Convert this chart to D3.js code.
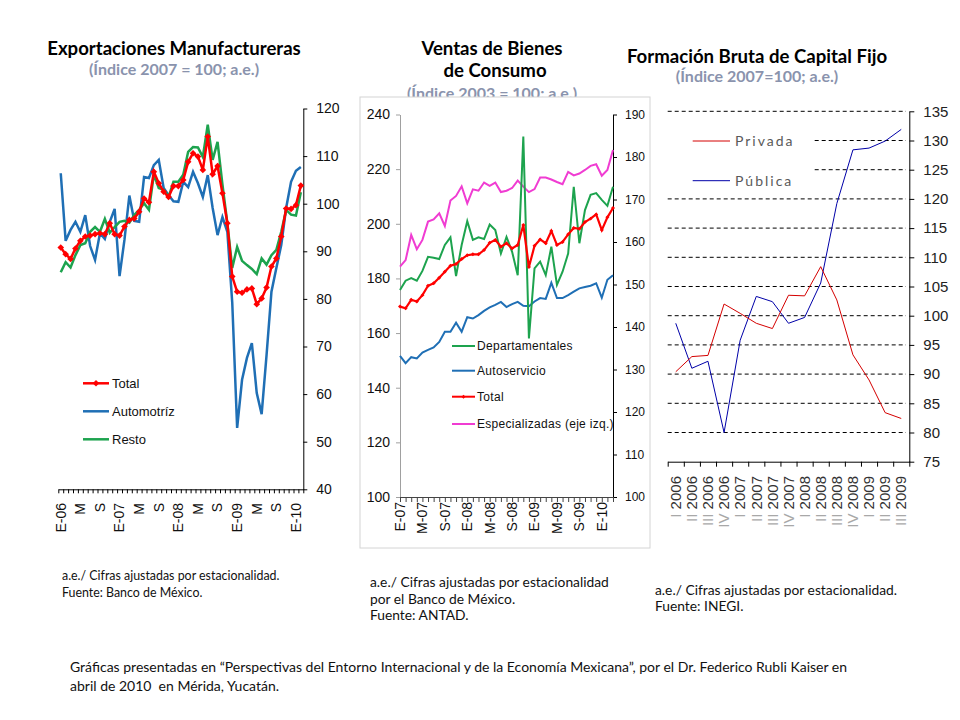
<!DOCTYPE html>
<html>
<head>
<meta charset="utf-8">
<script src="https://cdn.jsdelivr.net/npm/d3@7"></script>
<style>
body { margin: 0; background: #fff; }
svg { display: block; }
text { font-family: "Liberation Sans", Arial, sans-serif; }
.cal { font-family: Lato, "Open Sans", sans-serif; }
</style>
</head>
<body>
<script>
// ---- Exportaciones manufactureras (monthly, E-06 .. F-10) ----
const expTicks = ["E-06","M","S","E-07","M","S","E-08","M","S","E-09","M","S","E-10"]
const expTotal = [90.8,89.4,88.4,90.6,92.2,93.1,93.3,93.6,93.8,93.6,95.9,93.6,93.3,95.2,96.6,96.9,98.3,101.1,100.3,106.7,
                  104.3,102.5,101.4,103.7,103.7,105.0,108.8,110.6,109.9,107.1,114.1,106.2,107.9,102.2,95.9,84.7,81.5,81.3,82.0,82.2,
                  78.9,80.1,82.4,86.8,88.5,93.1,99.0,98.9,99.7,103.8]
const expAuto = [106.4,92.2,94.5,96.2,94.1,97.6,91.1,88.2,93.8,92.6,96.2,98.9,84.8,92.4,101.7,96.4,96.2,105.6,105.4,108.1,
                 109.2,103.3,101.8,100.5,100.4,104.6,103.5,106.7,104.3,101.4,106.0,99.1,93.4,97.2,94.1,79.2,52.9,63.0,67.6,70.7,
                 60.2,55.8,68.2,81.5,86.5,91.3,99.1,104.6,106.9,107.7]
const expResto = [85.6,87.7,86.6,89.2,91.3,91.7,94.1,95.1,94.1,96.8,93.9,95.1,96.2,96.4,96.0,97.6,98.7,100.1,98.7,106.1,
                  103.3,102.9,101.4,104.6,104.6,106.1,110.9,111.9,111.8,109.8,116.6,109.2,113.0,104.0,95.9,86.5,90.9,88.0,87.1,86.3,
                  85.2,88.5,87.2,89.2,90.3,94.1,98.7,97.7,97.5,102.4]
const expYTicks = [40,50,60,70,80,90,100,110,120]

// ---- Ventas de bienes de consumo (monthly, E-07 .. M-10) ----
const venTicks = ["E-07","M-07","S-07","E-08","M-08","S-08","E-09","M-09","S-09","E-10"]
const venEsp = [184.3,186.7,195.9,190.7,194.1,200.8,201.6,203.8,199.2,208.5,210.2,213.7,207.5,212.6,212.1,215.1,213.9,215.1,211.6,212.1,
                213.1,215.8,213.6,211.6,212.7,216.9,216.9,216.2,215.3,214.5,219.0,217.7,218.4,219.7,221.2,221.8,217.6,219.7,227.0]
const venDept = [148.7,150.9,151.5,150.9,153.2,156.5,156.3,156.0,159.3,161.1,152.0,159.3,164.9,160.5,161.1,160.7,164.1,162.8,157.3,161.2,
                 157.7,152.2,184.8,137.3,153.8,155.4,152.2,158.9,149.9,153.0,157.3,173.0,159.7,167.5,171.1,171.5,169.9,168.5,173.0]
const venTotal = [144.8,144.4,146.4,146.0,147.5,149.7,150.3,151.6,153.0,154.4,154.8,156.0,156.9,157.1,157.1,158.1,159.8,160.5,158.9,159.7,
                  158.5,159.3,164.0,154.1,159.1,160.6,159.7,162.6,159.3,160.0,161.8,163.3,163.1,164.7,165.5,166.5,162.8,165.8,168.0]
const venAuto = [133.2,131.5,132.9,132.6,134.0,134.6,135.2,136.5,138.9,138.9,141.0,138.9,142.3,142.0,142.8,143.8,144.6,145.2,145.9,144.7,
                 145.4,145.9,145.0,144.9,146.0,146.8,146.6,150.4,146.8,146.8,147.5,148.3,149.1,149.4,149.7,150.3,146.9,151.1,152.2]
const venLeftTicks = [100,120,140,160,180,200,220,240]
const venRightTicks = [100,110,120,130,140,150,160,170,180,190]

// ---- Formación bruta de capital fijo (quarterly) ----
const fbRoman = ["I","II","III","IV","I","II","III","IV","I","II","III","IV","I","II","III"]
const fbYears = ["2006","2006","2006","2006","2007","2007","2007","2007","2008","2008","2008","2008","2009","2009","2009"]
const fbPrivada = [90.4,93.0,93.2,102.0,100.4,98.7,97.8,103.5,103.4,108.4,102.7,93.3,89.0,83.4,82.4]
const fbPublica = [98.7,91.0,92.2,80.0,95.8,103.3,102.4,98.7,99.7,105.6,119.2,128.4,128.7,129.9,131.9]
const fbYTicks = [75,80,85,90,95,100,105,110,115,120,125,130,135]

const svg = d3.select('body').append('svg').attr('width', 960).attr('height', 720)

const styleAxis = (g, lineColor, fontSize) => {
    g.select('.domain').attr('stroke', lineColor)
    g.selectAll('.tick line').attr('stroke', lineColor)
    g.selectAll('.tick text').attr('fill', '#111').attr('font-size', fontSize)
        .attr('font-family', '"Liberation Sans", Arial, sans-serif')
}

const rotLabels = (g, labels, xf, y, size, color) => {
    g.selectAll('text.rl').data(labels).enter().append('text')
        .attr('class', 'rl')
        .attr('transform', (d, i) => 'translate(' + xf(i) + ',' + y + ') rotate(-90)')
        .attr('text-anchor', 'end').attr('dy', '0.35em')
        .attr('font-size', size).attr('fill', color)
        .text(d => d)
}

const title = (x, y, txt) => svg.append('text').attr('class', 'cal').attr('x', x).attr('y', y)
    .attr('text-anchor', 'middle').attr('font-weight', 'bold').attr('font-size', 18.6).attr('fill', '#000').text(txt)
const subtitle = (x, y, txt) => svg.append('text').attr('class', 'cal').attr('x', x).attr('y', y)
    .attr('text-anchor', 'middle').attr('font-weight', 'bold').attr('font-size', 16).attr('fill', '#8a93ad').text(txt)

// ================= chart 1 =================
const exX = d3.scaleLinear().domain([-0.5, 49.5]).range([58.3, 303.3])
const exY = d3.scaleLinear().domain([40, 120]).range([489.3, 108.5])

title(174, 55, 'Exportaciones Manufactureras')
subtitle(174, 75, '(Índice 2007 = 100; a.e.)')

let g1 = svg.append('g').attr('transform', 'translate(303.3,0)')
    .call(d3.axisRight(exY).tickValues(expYTicks).tickSize(4).tickSizeOuter(0).tickPadding(9))
styleAxis(g1, '#000', 14)
let g1x = svg.append('g').attr('transform', 'translate(0,489.3)')
    .call(d3.axisBottom(exX).tickValues(d3.range(-0.5, 50, 1)).tickSize(4).tickSizeOuter(0).tickFormat(''))
styleAxis(g1x, '#000', 14)
rotLabels(svg.append('g'), expTicks, k => exX(k * 4), 503, 14, '#111')

const exLine = d3.line().x((d, i) => exX(i)).y(d => exY(d))
svg.append('path').datum(expAuto).attr('d', exLine).attr('fill', 'none').attr('stroke', '#1f6fb5').attr('stroke-width', 2.5)
svg.append('path').datum(expResto).attr('d', exLine).attr('fill', 'none').attr('stroke', '#1da34e').attr('stroke-width', 2.5)
svg.append('path').datum(expTotal).attr('d', exLine).attr('fill', 'none').attr('stroke', '#ff0000').attr('stroke-width', 2.5)
const diamond = d3.symbol(d3.symbolSquare, 22)
svg.selectAll('path.exm').data(expTotal).enter().append('path').attr('class', 'exm')
    .attr('d', diamond)
    .attr('transform', (d, i) => 'translate(' + exX(i) + ',' + exY(d) + ') rotate(45)')
    .attr('fill', '#ff0000')

const exLegend = [['Total', '#ff0000', true], ['Automotríz', '#1f6fb5', false], ['Resto', '#1da34e', false]]
exLegend.forEach((d, k) => {
    const y = 383.3 + k * 28
    svg.append('line').attr('x1', 83).attr('x2', 109).attr('y1', y).attr('y2', y).attr('stroke', d[1]).attr('stroke-width', 2.5)
    if (d[2]) svg.append('path').attr('d', diamond).attr('transform', 'translate(96,' + y + ') rotate(45)').attr('fill', d[1])
    svg.append('text').attr('x', 112).attr('y', y).attr('dy', '0.35em').attr('font-size', 13).attr('fill', '#111').text(d[0])
})

// ================= chart 2 =================
title(492, 55, 'Ventas de Bienes')
title(495, 77, 'de Consumo')
subtitle(492, 99, '(Índice 2003 = 100; a.e.)')
svg.append('rect').attr('x', 360).attr('y', 97).attr('width', 290).attr('height', 451)
    .attr('fill', '#fff').attr('stroke', '#d4d4d4')

const veX = d3.scaleLinear().domain([0, 38]).range([400, 613])
const veYL = d3.scaleLinear().domain([100, 240]).range([497, 114.5])
const veYR = d3.scaleLinear().domain([100, 190]).range([497, 114.5])

let g2l = svg.append('g').attr('transform', 'translate(400,0)')
    .call(d3.axisLeft(veYL).tickValues(venLeftTicks).tickSize(4).tickSizeOuter(0).tickPadding(6))
styleAxis(g2l, '#a0a0a0', 14)
let g2r = svg.append('g').attr('transform', 'translate(613,0)')
    .call(d3.axisRight(veYR).tickValues(venRightTicks).tickSize(4).tickSizeOuter(0).tickPadding(8))
styleAxis(g2r, '#000', 12)
let g2x = svg.append('g').attr('transform', 'translate(0,497)')
    .call(d3.axisBottom(veX).tickValues(d3.range(0, 39, 1)).tickSize(5).tickSizeOuter(0).tickFormat(''))
styleAxis(g2x, '#444', 14)
rotLabels(svg.append('g'), venTicks, k => veX(k * 4), 502, 14, '#111')

const lineL = d3.line().x((d, i) => veX(i)).y(d => veYL(d))
const lineR = d3.line().x((d, i) => veX(i)).y(d => veYR(d))
svg.append('path').datum(venEsp).attr('d', lineL).attr('fill', 'none').attr('stroke', '#f03cd2').attr('stroke-width', 2)
svg.append('path').datum(venAuto).attr('d', lineR).attr('fill', 'none').attr('stroke', '#1f6fb5').attr('stroke-width', 2)
svg.append('path').datum(venDept).attr('d', lineR).attr('fill', 'none').attr('stroke', '#1da34e').attr('stroke-width', 2)
svg.append('path').datum(venTotal).attr('d', lineR).attr('fill', 'none').attr('stroke', '#ff0000').attr('stroke-width', 2.2)
const small = d3.symbol(d3.symbolSquare, 8)
svg.selectAll('path.vem').data(venTotal).enter().append('path').attr('class', 'vem')
    .attr('d', small)
    .attr('transform', (d, i) => 'translate(' + veX(i) + ',' + veYR(d) + ') rotate(45)')
    .attr('fill', '#ff0000')

const veLegend = [['Departamentales', '#1da34e'], ['Autoservicio', '#1f6fb5'], ['Total', '#ff0000'], ['Especializadas (eje izq.)', '#f03cd2']]
veLegend.forEach((d, k) => {
    const y = [346, 370.7, 396.7, 424][k]
    svg.append('line').attr('x1', 452).attr('x2', 475).attr('y1', y).attr('y2', y).attr('stroke', d[1]).attr('stroke-width', 2)
    if (d[0] === 'Total') svg.append('path').attr('d', small).attr('transform', 'translate(463.5,' + y + ') rotate(45)').attr('fill', d[1])
    svg.append('text').attr('x', 477).attr('y', y).attr('dy', '0.35em').attr('font-size', 12).attr('fill', '#111')
        .attr('letter-spacing', 0.3).text(d[0])
})

// ================= chart 3 =================
title(757, 63, 'Formación Bruta de Capital Fijo')
subtitle(757, 82, '(Índice 2007=100; a.e.)')

const fbX = d3.scaleLinear().domain([-0.5, 14.5]).range([667.7, 909.3])
const fbY = d3.scaleLinear().domain([75, 135]).range([461.7, 111.3])

svg.append('g').selectAll('line').data(fbYTicks.slice(1)).enter().append('line')
    .attr('x1', 667.7).attr('x2', 906).attr('y1', d => fbY(d)).attr('y2', d => fbY(d))
    .attr('stroke', '#000').attr('stroke-dasharray', '4,3')
let g3r = svg.append('g').attr('transform', 'translate(909.3,0)')
    .call(d3.axisRight(fbY).tickValues(fbYTicks).tickSize(5).tickSizeOuter(0).tickPadding(9))
styleAxis(g3r, '#000', 15)
g3r.selectAll('.tick text').attr('font-family', 'Lato, "Open Sans", sans-serif').attr('fill', '#222')
let g3x = svg.append('g').attr('transform', 'translate(0,461.7)')
    .call(d3.axisBottom(fbX).tickValues(d3.range(-0.5, 15, 1)).tickSize(5).tickSizeOuter(0).tickFormat(''))
styleAxis(g3x, '#000', 14)

svg.append('g').selectAll('text').data(fbYears).enter().append('text')
    .attr('transform', (d, i) => 'translate(' + fbX(i) + ',476) rotate(-90)')
    .attr('text-anchor', 'end').attr('dy', '0.35em').attr('font-size', 15)
    .attr('font-family', 'Lato, "Open Sans", sans-serif')
    .each(function (d, i) {
        const t = d3.select(this)
        t.append('tspan').attr('fill', '#a8a8a8').text(fbRoman[i] + ' ')
        t.append('tspan').attr('fill', '#333').text(d)
    })

const fbLine = d3.line().x((d, i) => fbX(i)).y(d => fbY(d))
svg.append('path').datum(fbPublica).attr('d', fbLine).attr('fill', 'none').attr('stroke', '#0000a8').attr('stroke-width', 1)
svg.append('path').datum(fbPrivada).attr('d', fbLine).attr('fill', 'none').attr('stroke', '#d40000').attr('stroke-width', 1)

// legend box hides the dashed grid behind it
svg.append('rect').attr('x', 660).attr('y', 121).attr('width', 152).attr('height', 72).attr('fill', '#fff')
const fbLegend = [['Privada', '#d40000', 141], ['Pública', '#0000a8', 180.7]]
fbLegend.forEach(d => {
    svg.append('line').attr('x1', 692.7).attr('x2', 730).attr('y1', d[2]).attr('y2', d[2]).attr('stroke', d[1])
    svg.append('text').attr('class', 'cal').attr('x', 735).attr('y', d[2]).attr('dy', '0.35em')
        .attr('font-size', 14).attr('letter-spacing', 2).attr('fill', '#595959').text(d[0])
})

// ================= notes =================
const notes = [
    [62, 580, 12.4, 'a.e./ Cifras ajustadas por estacionalidad.'],
    [62, 597, 12.4, 'Fuente: Banco de México.'],
    [370, 587, 13.8, 'a.e./ Cifras ajustadas por estacionalidad'],
    [370, 604, 13.8, 'por el Banco de México.'],
    [370, 620, 13.8, 'Fuente: ANTAD.'],
    [655, 595, 13.8, 'a.e./ Cifras ajustadas por estacionalidad.'],
    [655, 611, 13.8, 'Fuente: INEGI.'],
    [70, 672, 14, 'Gráficas presentadas en “Perspectivas del Entorno Internacional y de la Economía Mexicana”, por el Dr. Federico Rubli Kaiser en'],
    [70, 691, 14, 'abril de 2010  en Mérida, Yucatán.']
]
svg.append('g').selectAll('text').data(notes).enter().append('text')
    .attr('class', 'cal').attr('x', d => d[0]).attr('y', d => d[1])
    .attr('font-size', d => d[2]).attr('fill', '#111').attr('xml:space', 'preserve')
    .text(d => d[3])
</script>
</body>
</html>
